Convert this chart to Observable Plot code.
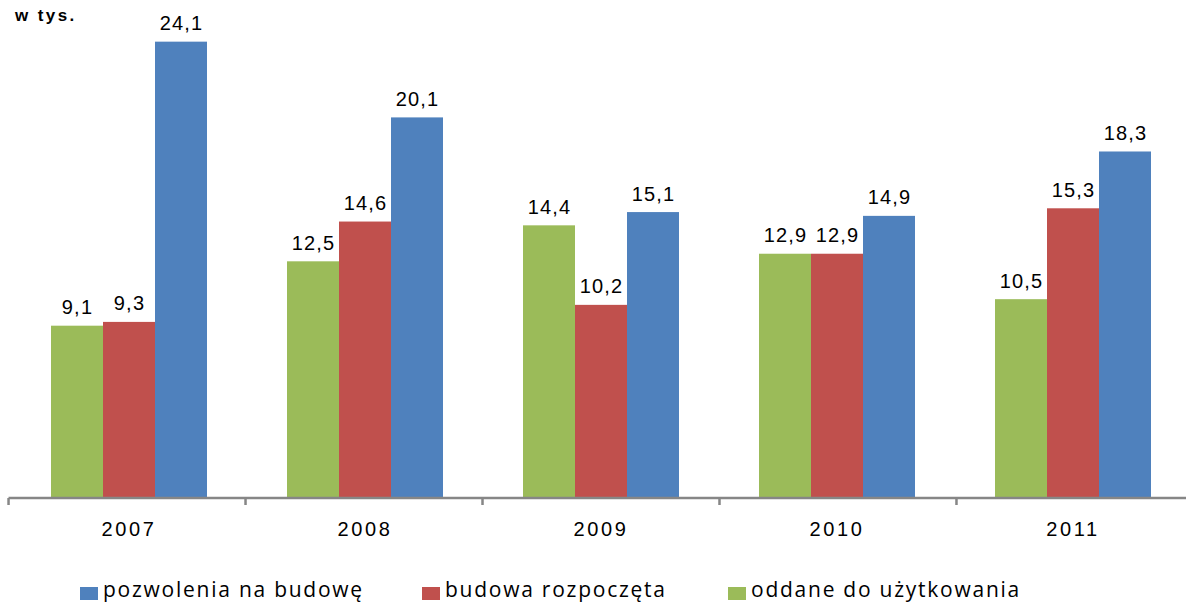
<!DOCTYPE html>
<html><head><meta charset="utf-8">
<script src="https://cdn.jsdelivr.net/npm/d3@7"></script>
<script src="https://cdn.jsdelivr.net/npm/@observablehq/plot@0.6"></script>
<style>
body{margin:0;background:#fff;}
#wrap{position:relative;width:1186px;height:603px;overflow:hidden;}
#unit{position:absolute;left:15px;top:6px;font:bold 17px "Liberation Sans",Arial,sans-serif;letter-spacing:2.4px;color:#000;}
#legend{position:absolute;top:580px;left:0;width:1186px;height:23px;font:21px "Open Sans",sans-serif;color:#000;}
.sw{position:absolute;top:7px;width:18px;height:13px;}
.lt{position:absolute;top:-5px;white-space:nowrap;letter-spacing:1.75px;line-height:29px;}
</style>
</head><body>
<div id="wrap"><div id="unit">w tys.</div><div id="legend"></div></div>
<script>
const years = ["2007", "2008", "2009", "2010", "2011"];
const series = ["oddane do użytkowania", "budowa rozpoczęta", "pozwolenia na budowę"];
const colors = ["#9BBB59", "#C0504D", "#4F81BD"];
const oddane = [9.1, 12.5, 14.4, 12.9, 10.5];
const rozpoczeta = [9.3, 14.6, 10.2, 12.9, 15.3];
const pozwolenia = [24.1, 20.1, 15.1, 14.9, 18.3];

const values = [oddane, rozpoczeta, pozwolenia];
const data = years.flatMap((yr, i) => series.map((s, j) => ({year: yr, series: s, value: values[j][i]})));
const fmt = v => v.toFixed(1).replace(".", ",");

const plot = Plot.plot({
  width: 1195,
  height: 545,
  marginLeft: 7,
  marginRight: 0,
  marginTop: 0,
  marginBottom: 47,
  style: {background: "transparent", overflow: "visible", maxWidth: "none"},
  fx: {domain: years, paddingInner: 0.333, paddingOuter: 0.173, label: null},
  x: {domain: series, padding: 0, axis: null},
  y: {domain: [0, 26.3], axis: null},
  color: {domain: series, range: colors},
  marks: [
    Plot.barY(data, {fx: "year", x: "series", y: "value", fill: "series"}),
    Plot.text(data, {fx: "year", x: "series", y: "value", text: d => fmt(d.value), lineAnchor: "bottom", dy: -12, fontSize: 20, fill: "#000", className: "vlab"}),
    Plot.axisFx({anchor: "bottom", tickSize: 0, tickPadding: 23, label: null, fontSize: 20, fill: "#000", className: "ylab"})
  ]
});

const svg = d3.select(plot);
svg.style("max-width", "none").style("width", "1195px").style("height", "545px");
svg.selectAll(".vlab text").style("letter-spacing", "1.2px").style("font-size", "20px").style("font-family", "'Liberation Sans', Arial, sans-serif");
svg.selectAll(".ylab text").style("letter-spacing", "2.6px").style("font-size", "20px").style("font-family", "'Liberation Sans', Arial, sans-serif");

// axis baseline and group-boundary ticks from the library's scales
const fxs = plot.scale("fx");
const band = d3.scaleBand(fxs.domain, fxs.range).paddingInner(fxs.paddingInner).paddingOuter(fxs.paddingOuter).align(fxs.align ?? 0.5);
const y0 = plot.scale("y").apply(0);
const gap = band.step() - band.bandwidth();
const bounds = years.map(yr => band(yr) - gap / 2).concat([band(years[years.length - 1]) + band.bandwidth() + gap / 2]);
const g = svg.append("g").attr("stroke", "#868686").attr("stroke-width", 2.5);
g.append("line").attr("x1", bounds[0]).attr("x2", bounds[bounds.length - 1]).attr("y1", y0).attr("y2", y0);
g.selectAll("line.t").data(bounds).join("line").attr("class", "t")
  .attr("x1", d => d).attr("x2", d => d).attr("y1", y0).attr("y2", y0 + 7);

const wrap = document.getElementById("wrap");
plot.style.position = "absolute"; plot.style.left = "0"; plot.style.top = "0";
wrap.insertBefore(plot, wrap.firstChild);

// legend
const legendOrder = [2, 1, 0];
const legendX = [80, 422, 728];
const lg = document.getElementById("legend");
legendOrder.forEach((j, k) => {
  const sw = document.createElement("div"); sw.className = "sw";
  sw.style.left = legendX[k] + "px"; sw.style.background = colors[j];
  const t = document.createElement("div"); t.className = "lt";
  t.style.left = (legendX[k] + 23) + "px"; t.textContent = series[j];
  lg.appendChild(sw); lg.appendChild(t);
});
</script>
</body></html>
